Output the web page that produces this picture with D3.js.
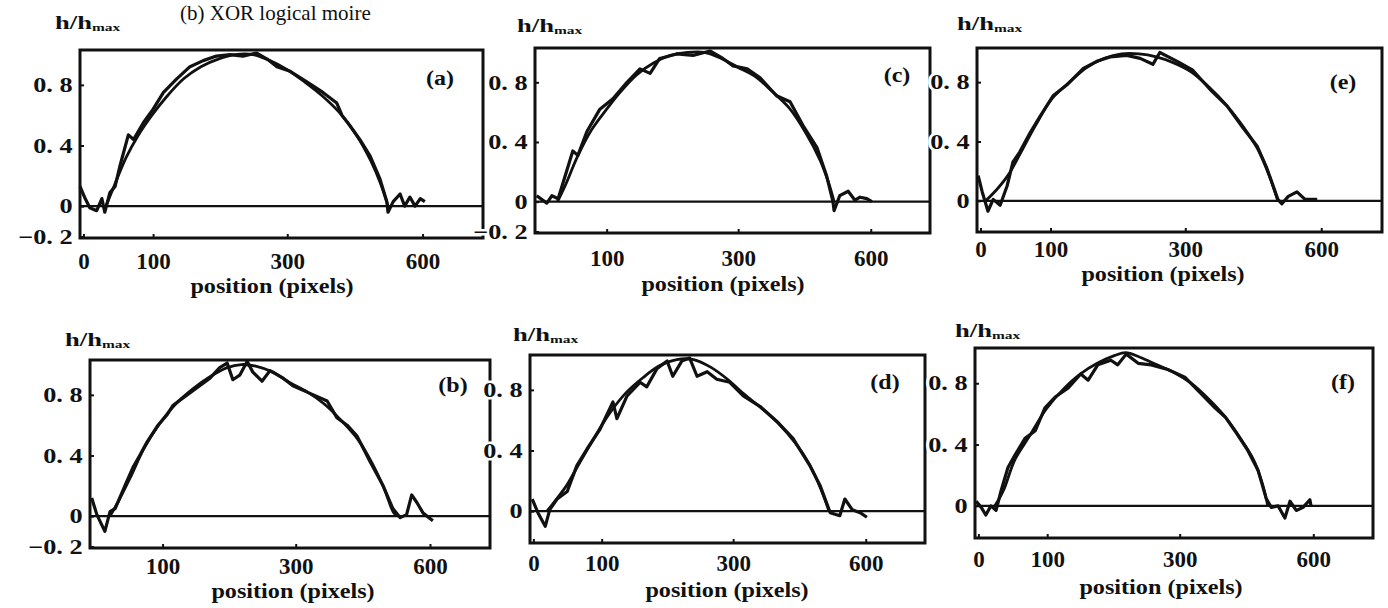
<!DOCTYPE html>
<html>
<head>
<meta charset="utf-8">
<script src="https://cdn.jsdelivr.net/npm/d3@7"></script>
<style>
body { margin: 0; background: #fff; }
svg { display: block; }
</style>
</head>
<body>
<svg></svg>
<script>
const titleText = "(b) XOR logical moire";
const xLabelText = "position (pixels)";
const xTickPos = [6, 127, 360, 595];
const xTickText = ["0", "100", "300", "600"];
const yTickVals = [0.8, 0.4, 0, -0.2];
const yTickText = ["0. 8", "0. 4", "0", "\u22120. 2"];

// measured profiles, [position, h/hmax]
const measA = [[0,0.13],[9,0.05],[17,-0.01],[29,-0.03],[38,0.05],[43,-0.04],[52,0.09],[61,0.13],[69,0.26],[84,0.47],[93,0.44],[110,0.55],[127,0.64],[145,0.75],[168,0.84],[191,0.92],[214,0.96],[237,0.99],[261,1.0],[283,0.99],[307,1.01],[325,0.97],[342,0.92],[365,0.89],[394,0.82],[422,0.75],[446,0.68],[455,0.6],[469,0.53],[486,0.44],[504,0.33],[521,0.18],[533,0.03],[535,-0.04],[544,0.03],[556,0.08],[564,0.0],[573,0.06],[582,0.0],[591,0.05],[599,0.03]];
const measC = [[3,0.04],[21,-0.01],[30,0.04],[41,0.02],[50,0.13],[67,0.34],[76,0.31],[92,0.47],[115,0.62],[138,0.69],[163,0.8],[186,0.89],[204,0.86],[221,0.96],[251,0.99],[280,0.98],[310,1.01],[333,0.96],[351,0.91],[376,0.89],[399,0.83],[428,0.71],[452,0.67],[475,0.51],[500,0.36],[517,0.17],[528,0.0],[530,-0.06],[540,0.04],[555,0.07],[567,0.01],[576,0.03],[588,0.02],[597,0.0]];
const measE = [[2,0.17],[9,0.06],[19,-0.07],[28,0.01],[40,-0.03],[52,0.1],[62,0.26],[74,0.33],[92,0.46],[109,0.57],[132,0.71],[155,0.78],[183,0.89],[207,0.94],[230,0.97],[259,0.98],[282,0.96],[304,0.92],[316,1.0],[346,0.94],[373,0.88],[403,0.75],[432,0.64],[460,0.49],[484,0.37],[501,0.22],[520,0.01],[527,-0.02],[538,0.03],[553,0.06],[567,0.01],[588,0.01]];
const measB = [[3,0.12],[12,0.01],[26,-0.1],[35,0.03],[44,0.05],[61,0.2],[75,0.32],[87,0.4],[100,0.49],[119,0.6],[135,0.67],[145,0.73],[170,0.8],[192,0.86],[210,0.91],[227,0.98],[240,1.01],[250,0.9],[262,0.93],[275,1.02],[285,0.95],[301,0.89],[315,0.96],[338,0.91],[355,0.86],[385,0.81],[415,0.76],[432,0.65],[450,0.6],[467,0.53],[490,0.36],[513,0.2],[530,0.05],[543,-0.01],[554,0.01],[563,0.14],[572,0.09],[583,0.02],[600,-0.03]];
const measD = [[4,0.08],[14,-0.01],[27,-0.1],[35,0.01],[48,0.08],[66,0.13],[83,0.3],[101,0.41],[124,0.54],[147,0.72],[154,0.61],[172,0.76],[195,0.85],[207,0.82],[225,0.94],[243,0.99],[253,0.89],[269,0.99],[283,1.01],[296,0.89],[314,0.92],[331,0.87],[354,0.85],[378,0.76],[408,0.69],[438,0.59],[466,0.48],[496,0.3],[514,0.17],[532,-0.01],[549,-0.03],[558,0.08],[571,0.01],[585,-0.01],[597,-0.04]];
const measF = [[2,0.03],[11,-0.01],[19,-0.06],[28,0.0],[37,-0.03],[46,0.1],[58,0.25],[70,0.33],[88,0.44],[106,0.49],[123,0.64],[141,0.71],[164,0.77],[186,0.86],[199,0.82],[216,0.92],[239,0.95],[251,0.92],[266,0.99],[287,0.93],[310,0.92],[339,0.89],[369,0.84],[398,0.73],[422,0.64],[440,0.58],[457,0.49],[480,0.36],[498,0.23],[512,0.05],[521,-0.01],[533,0.0],[545,-0.08],[554,0.03],[565,-0.03],[577,-0.01],[589,0.04],[591,0.0]];

// smooth reference profiles
const fitA = [[45,0],[60,0.14],[80,0.32],[100,0.46],[125,0.6],[150,0.72],[180,0.84],[210,0.92],[240,0.97],[270,1.0],[300,1.0],[330,0.96],[360,0.9],[390,0.82],[420,0.73],[450,0.62],[480,0.47],[505,0.3],[522,0.15],[535,0]];
const fitC = [[40,0],[55,0.12],[75,0.3],[100,0.48],[125,0.61],[150,0.73],[180,0.85],[210,0.93],[240,0.98],[270,1.0],[300,1.0],[330,0.96],[360,0.9],[390,0.84],[420,0.74],[450,0.63],[480,0.46],[505,0.28],[520,0.13],[530,0]];
const fitE = [[15,0],[35,0.08],[55,0.18],[75,0.32],[100,0.5],[130,0.69],[160,0.8],[190,0.9],[220,0.96],[250,0.99],[280,0.99],[310,0.97],[340,0.93],[370,0.87],[400,0.77],[430,0.65],[460,0.5],[485,0.35],[505,0.17],[520,0]];
const fitB = [[35,0],[50,0.1],[70,0.25],[95,0.45],[120,0.6],[150,0.74],[180,0.84],[210,0.92],[240,0.98],[265,1.0],[290,0.99],[320,0.95],[350,0.88],[380,0.82],[410,0.74],[440,0.63],[470,0.5],[495,0.34],[515,0.18],[532,0.02],[540,0]];
const fitD = [[30,0],[45,0.07],[65,0.17],[85,0.3],[110,0.46],[140,0.64],[170,0.78],[200,0.88],[230,0.96],[260,1.0],[290,1.0],[320,0.95],[350,0.87],[380,0.77],[410,0.68],[440,0.58],[470,0.45],[495,0.31],[515,0.15],[530,0]];
const fitF = [[35,0],[50,0.1],[70,0.3],[95,0.45],[125,0.63],[155,0.76],[185,0.86],[215,0.93],[245,0.98],[265,1.0],[290,0.97],[320,0.92],[350,0.87],[380,0.8],[410,0.7],[440,0.58],[465,0.45],[490,0.3],[505,0.15],[515,0]];

// panel boxes on the page
var panels = [
	{id:"(a)", meas:measA, fit:fitA, l:80,  t:50,  r:483,  b:238, zeroTick:true,  minus:true,  xlab:272,  gx:32, gl:54, hx:-25, hy:-21, tx:440,  ty:85},
	{id:"(c)", meas:measC, fit:fitC, l:535, t:48,  r:930,  b:233, zeroTick:false, minus:true,  xlab:723,  gx:34, gl:57, hx:-18, hy:-16, tx:897,  ty:82},
	{id:"(e)", meas:measE, fit:fitE, l:977, t:48,  r:1382, b:232, zeroTick:true,  minus:false, xlab:1163, gx:26, gl:48, hx:-20, hy:-18, tx:1343, ty:89},
	{id:"(b)", meas:measB, fit:fitB, l:90,  t:360, r:490,  b:548, zeroTick:false, minus:true,  xlab:293,  gx:27, gl:49, hx:-25, hy:-14, tx:453,  ty:392},
	{id:"(d)", meas:measD, fit:fitD, l:530, t:355, r:925,  b:543, zeroTick:true,  minus:false, xlab:727,  gx:29, gl:53, hx:-17, hy:-14, tx:885,  ty:389},
	{id:"(f)", meas:measF, fit:fitF, l:975, t:348, r:1373, b:538, zeroTick:true,  minus:false, xlab:1161, gx:30, gl:55, hx:-20, hy:-11, tx:1343, ty:389}
];

var ink = "#111";
var serif = "'Liberation Serif','Times New Roman',serif";
var svg = d3.select("svg").attr("width", 1388).attr("height", 608);

svg.append("text")
	.attr("x", 180).attr("y", 20)
	.style("font-family", serif).style("font-size", "21px").style("fill", ink)
	.text(titleText);

function drawPanel(p){
	var x = d3.scaleLinear().domain([0, 700]).range([p.l, p.r]);
	var y = d3.scaleLinear().domain([-0.21, 1.03]).range([p.b, p.t]);
	var g = svg.append("g");

	g.append("rect")
	.attr("x", p.l).attr("y", p.t)
	.attr("width", p.r-p.l).attr("height", p.b-p.t)
	.style("fill", "none").style("stroke", ink).style("stroke-width", 3);

	g.append("line")
	.attr("x1", x(0)).attr("x2", x(700))
	.attr("y1", y(0)).attr("y2", y(0))
	.style("stroke", ink).style("stroke-width", 2.2);

	var line = d3.line().x(d => x(d[0])).y(d => y(d[1]));

	g.append("path").datum(p.fit)
	.attr("d", line.curve(d3.curveCatmullRom))
	.style("fill", "none").style("stroke", ink).style("stroke-width", 2.8);

	g.append("path").datum(p.meas)
	.attr("d", line.curve(d3.curveLinear))
	.style("fill", "none").style("stroke", ink).style("stroke-width", 3.2)
	.style("stroke-linejoin", "round");

	// y axis
	var yv = yTickVals.filter(v => p.minus || v >= 0);
	var ya = g.append("g").attr("transform", "translate("+p.l+",0)")
	.call(d3.axisLeft(y).tickValues(yv)
		.tickFormat(v => yTickText[yTickVals.indexOf(v)])
		.tickSizeInner(-4).tickSizeOuter(0).tickPadding(6));
	ya.select(".domain").remove();
	ya.selectAll("line").style("stroke", ink).style("stroke-width", 2);
	ya.selectAll("text")
	.attr("transform", "scale(1.25,1)")
	.style("font-family", serif).style("font-weight", "bold").style("font-size", "21px")
	.style("fill", ink)
	.style("stroke", "#fff").style("stroke-width", 5).style("paint-order", "stroke");

	// x axis
	var xi = xTickPos.map((v,i) => i).filter(i => p.zeroTick || i > 0);
	var xa = g.append("g").attr("transform", "translate(0,"+p.b+")")
	.call(d3.axisBottom(x).tickValues(xi.map(i => xTickPos[i]))
		.tickFormat(v => xTickText[xTickPos.indexOf(v)])
		.tickSizeInner(-4).tickSizeOuter(0).tickPadding(p.gx-17));
	xa.select(".domain").remove();
	xa.selectAll("line").style("stroke", ink).style("stroke-width", 2);
	xa.selectAll("text")
	.style("font-family", serif).style("font-weight", "bold").style("font-size", "23px")
	.style("fill", ink);

	g.append("text")
	.attr("transform", "translate("+p.xlab+","+(p.b+p.gl+1)+") scale(1.1,1)")
	.attr("text-anchor", "middle")
	.style("font-family", serif).style("font-weight", "bold").style("font-size", "22px")
	.style("fill", ink)
	.text(xLabelText);

	var h = g.append("text")
	.attr("transform", "translate("+(p.l+p.hx)+","+(p.t+p.hy)+") scale(1.4,1)")
	.style("font-family", serif).style("font-weight", "bold").style("font-size", "19px")
	.style("fill", ink);
	h.append("tspan").text("h/h");
	h.append("tspan").attr("dy", 2).style("font-size", "11px").text("max");

	g.append("text")
	.attr("transform", "translate("+p.tx+","+p.ty+") scale(1.2,1)")
	.attr("text-anchor", "middle")
	.style("font-family", serif).style("font-weight", "bold").style("font-size", "20px")
	.style("fill", ink)
	.text(p.id);
}

panels.forEach(drawPanel);
</script>
</body>
</html>
